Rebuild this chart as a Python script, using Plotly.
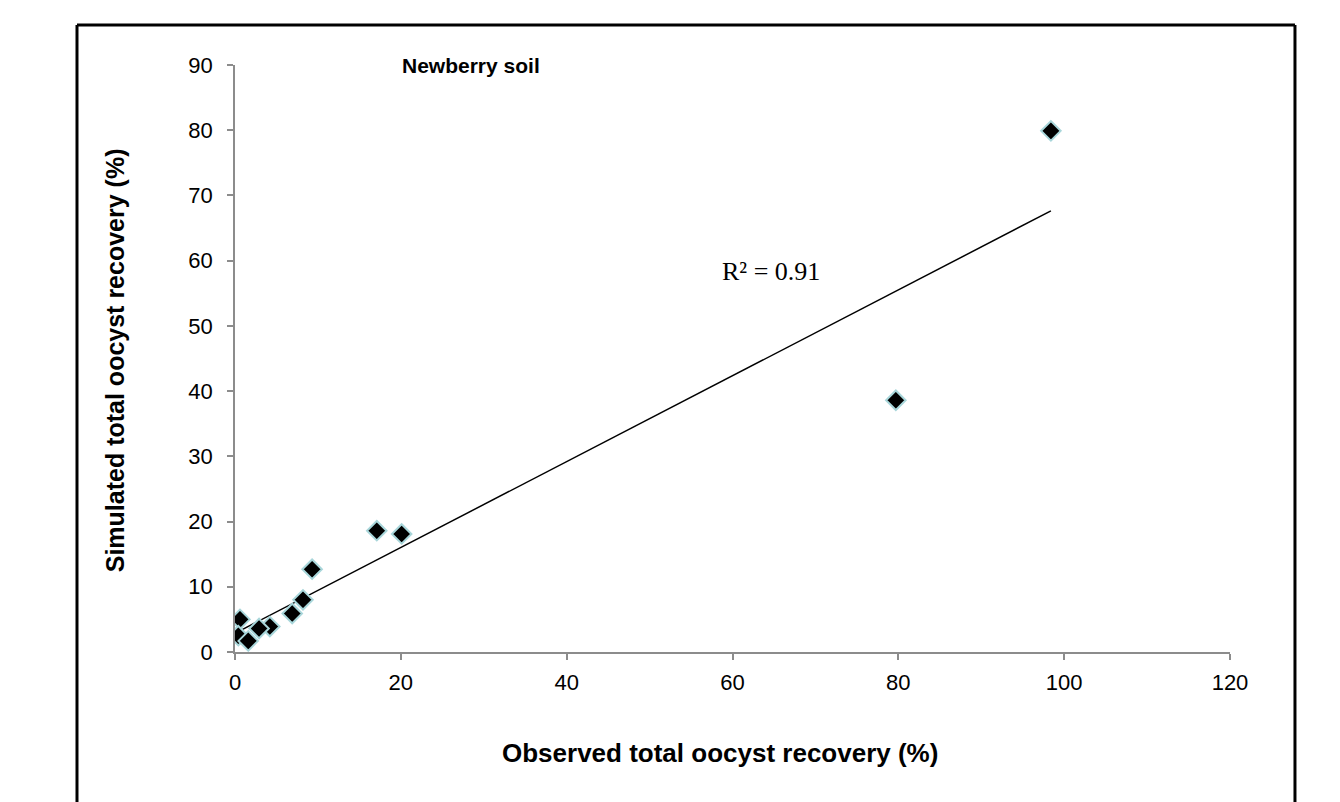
import numpy as np
import plotly.graph_objects as go

observed = [98.4, 79.7, 17.1, 20.1, 9.3, 8.2, 6.9, 4.2, 2.9, 0.6, 0.4, 1.6]
simulated = [79.9, 38.6, 18.6, 18.1, 12.7, 8.0, 5.9, 3.9, 3.6, 5.0, 2.5, 1.7]
x_ticks = [0, 20, 40, 60, 80, 100, 120]
y_ticks = [0, 10, 20, 30, 40, 50, 60, 70, 80, 90]
title_text = "Newberry soil"
x_title = "Observed total oocyst recovery (%)"
y_title = "Simulated total oocyst recovery (%)"
r2_text = "R² = 0.91"

slope, intercept = np.polyfit(observed, simulated, 1)
fx = np.array([min(observed), max(observed)])
fy = slope * fx + intercept

fig = go.Figure()
fig.add_trace(go.Scatter(x=fx, y=fy, mode="lines",
                         line=dict(color="black", width=1.5), hoverinfo="skip"))
fig.add_trace(go.Scatter(x=observed, y=simulated, mode="markers",
                         marker=dict(symbol="diamond", size=15, color="black",
                                     line=dict(color="#a8d6da", width=2))))

FONT = "Arial, Liberation Sans"
axis_common = dict(showgrid=False, zeroline=False, showline=True,
                   linecolor="#8c8c8c", linewidth=1.5, ticks="outside",
                   tickcolor="#8c8c8c", ticklen=6, tickwidth=1.5,
                   tickfont=dict(family=FONT, size=22, color="black"))

fig.update_layout(
    width=1332, height=794,
    margin=dict(l=227, r=110, t=57, b=150),
    plot_bgcolor="white", paper_bgcolor="white",
    showlegend=False,
    xaxis=dict(range=[0, 120], tickvals=x_ticks, ticklabelstandoff=4, **axis_common),
    yaxis=dict(range=[0, 90], tickvals=y_ticks, ticklabelstandoff=10, **axis_common),
    annotations=[
        dict(text="<b>" + title_text + "</b>", xref="x", yref="y", x=28.5, y=90,
             showarrow=False, font=dict(family=FONT, size=21, color="black")),
        dict(text=r2_text, xref="x", yref="y", x=64.6, y=58.3, showarrow=False,
             xanchor="center", yanchor="middle",
             font=dict(family="Times New Roman, Liberation Serif", size=26, color="black")),
        dict(text="<b>" + x_title + "</b>", xref="paper", yref="paper", x=0.4874, y=-0.172,
             xanchor="center", yanchor="middle",
             showarrow=False, font=dict(family=FONT, size=26, color="black")),
        dict(text="<b>" + y_title + "</b>", xref="paper", yref="paper", x=-0.1206, y=0.497,
             xanchor="center", yanchor="middle",
             textangle=-90, showarrow=False, font=dict(family=FONT, size=25, color="black")),
    ],
    shapes=[
        dict(type="line", xref="paper", yref="paper", x0=-0.1588, x1=-0.1588, y0=1.0681, y1=-0.3,
             line=dict(color="black", width=3)),
        dict(type="line", xref="paper", yref="paper", x0=1.0653, x1=1.0653, y0=1.0681, y1=-0.3,
             line=dict(color="black", width=3)),
        dict(type="line", xref="paper", yref="paper", x0=-0.1588, x1=1.0653, y0=1.0681, y1=1.0681,
             line=dict(color="black", width=3)),
    ],
)

fig.write_html("out.html")
